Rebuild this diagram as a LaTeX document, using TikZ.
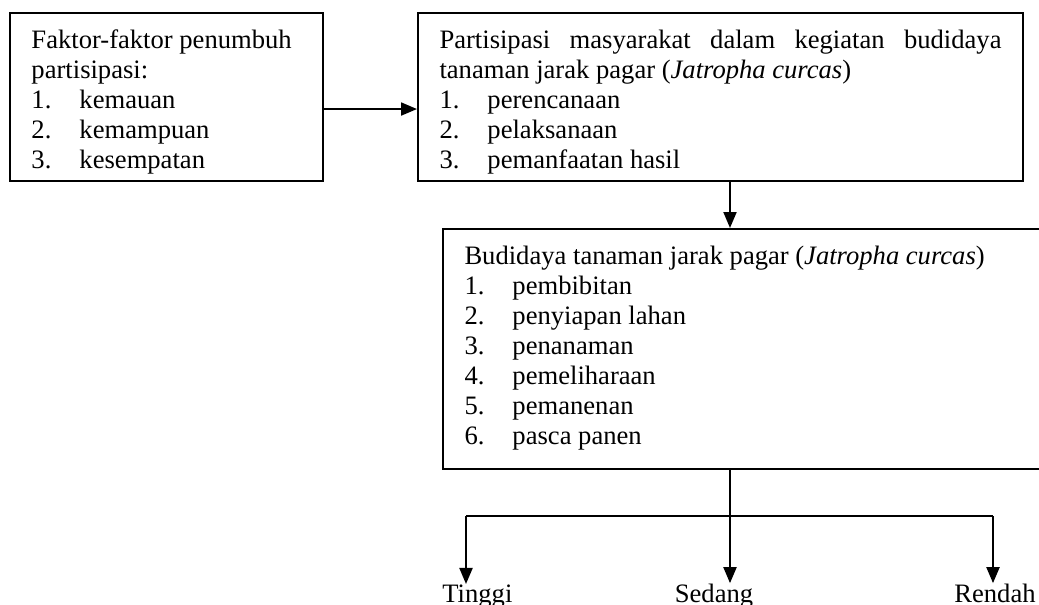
\documentclass[tikz,border=0pt]{standalone}
\usepackage{fontspec}
\setmainfont{Liberation Serif}
\usetikzlibrary{arrows.meta}
\newcommand{\butir}[2]{\makebox[24pt][l]{#1}#2}
\newcommand{\atas}{\spaceskip=0pt\xspaceskip=0pt\rule{0pt}{13.8pt}}
\newcommand{\bawah}[1]{\rule[-#1]{0pt}{#1}}
\begin{document}
\begin{tikzpicture}[x=0.5pt, y=-0.5pt,
  font=\fontsize{13.3}{15}\selectfont,
  kotak/.style={draw, rectangle, line width=1pt, anchor=north west,
    inner xsep=10.75pt, inner ysep=3.7pt, align=justify,
    execute at begin node={\atas},
    execute at end node={\bawah{2.8pt}}},
  hasil/.style={inner sep=0pt},
  panah/.style={line width=1pt, -{Triangle[length=8pt,width=6.5pt]}},
  garis/.style={line width=1pt}]
\useasboundingbox (0,0) rectangle (1039,605);
\clip (0,0) rectangle (1039,605);
\node[kotak, text width=135pt] (faktor) at (9,12) {Faktor-faktor penumbuh\\ partisipasi:\\
  \butir{1.}{kemauan}\\ \butir{2.}{kemampuan}\\ \butir{3.}{kesempatan}};
\node[kotak, text width=281pt] (partisipasi) at (417,12) {Partisipasi masyarakat dalam kegiatan budidaya\linebreak
  tanaman jarak pagar (\textit{Jatropha curcas})\\
  \butir{1.}{perencanaan}\\ \butir{2.}{pelaksanaan}\\ \butir{3.}{pemanfaatan hasil}};
\node[kotak, text width=290pt, execute at end node={\bawah{9pt}}] (budidaya) at (442,228) {Budidaya tanaman jarak pagar (\textit{Jatropha curcas})\\
  \butir{1.}{pembibitan}\\ \butir{2.}{penyiapan lahan}\\ \butir{3.}{penanaman}\\
  \butir{4.}{pemeliharaan}\\ \butir{5.}{pemanenan}\\ \butir{6.}{pasca panen}};
\node[hasil, anchor=base west] (tinggi) at (442,602) {Tinggi};
\node[hasil, anchor=base] (sedang) at (714,602) {Sedang};
\node[hasil, anchor=base east] (rendah) at (1036,602) {Rendah};
\coordinate (poros) at (730,516);
\coordinate (kiri) at (466,516);
\coordinate (kanan) at (993,516);
\draw[panah] ([yshift=-6pt]faktor.east) -- ([yshift=-6pt]partisipasi.west);
\draw[panah] (partisipasi.south -| poros) -- (budidaya.north -| poros);
\draw[garis] (budidaya.south -| poros) -- (poros);
\draw[garis] (kiri) -- (kanan);
\draw[panah] (kiri) -- (kiri |- tinggi.north);
\draw[panah] (poros) -- (poros |- sedang.north);
\draw[panah] (kanan) -- (kanan |- rendah.north);
\end{tikzpicture}
\end{document}
